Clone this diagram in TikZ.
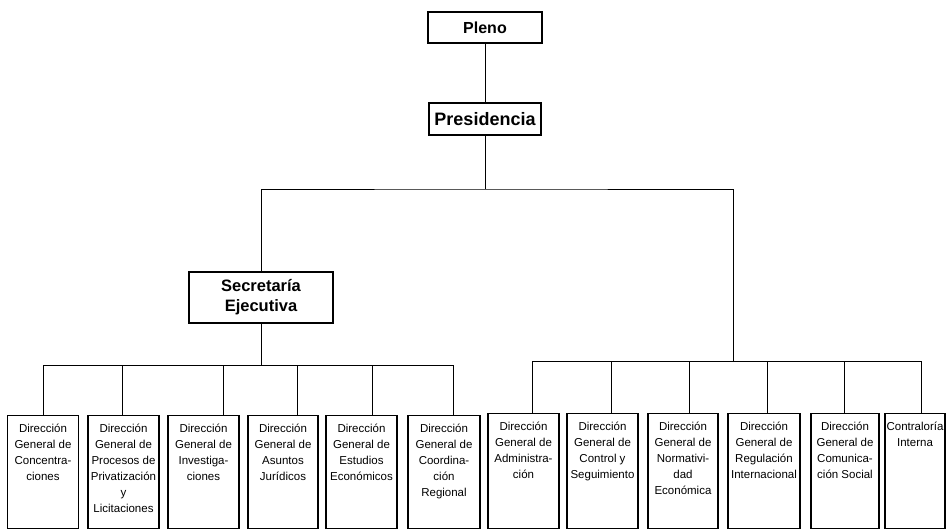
\documentclass[tikz,border=0pt]{standalone}
\usepackage{fontspec}
\setmainfont{Liberation Sans}
\newcommand{\dirtxt}[3]{\parbox[t][#1][t]{#2}{\centering\vspace*{8pt}#3}}
\begin{document}
\begin{tikzpicture}  % ------ Organigrama  ---------------
      [x=1pt,y=-1pt,
       titre/.style={draw,line width=1.2pt,inner sep=0pt,font=\bfseries},
       dir/.style={draw,line width=1.1pt,inner sep=0pt,anchor=north,
                   font=\fontsize{11.5}{16}\selectfont},
       trait/.style={line width=0.9pt}]
    \useasboundingbox (0,0) rectangle (950,531);
    % ------ direction
    \node [titre,minimum width=114pt,minimum height=31pt,font=\fontsize{16}{18}\selectfont\bfseries]
          (pleno) at (485,27.5) {Pleno};
    \node [titre,minimum width=112pt,minimum height=32pt,font=\fontsize{18}{20}\selectfont\bfseries]
          (pres) at (485,119) {Presidencia};
    \node [titre,minimum width=144pt,minimum height=51pt,align=center,
           font=\fontsize{16.5}{20}\selectfont\bfseries]
          (secr) at (261,297.5) {Secretaría\\Ejecutiva};
    \coordinate (b0) at (485,189);
    \coordinate (busG) at (261,365);
    \coordinate (busD) at (733,361);
    % ------ directions generales (Secretaría)
    \node [dir] (d1) at (43,415)    {\dirtxt{113pt}{71pt}{Dirección\\General de\\Concentra-\\ciones}};
    \node [dir] (d2) at (123.5,415) {\dirtxt{113pt}{71pt}{Dirección\\General de\\Procesos de\\Privatización\\y\\Licitaciones}};
    \node [dir] (d3) at (203.5,415) {\dirtxt{113pt}{71pt}{Dirección\\General de\\Investiga-\\ciones}};
    \node [dir] (d4) at (283,415)   {\dirtxt{113pt}{70pt}{Dirección\\General de\\Asuntos\\Jurídicos}};
    \node [dir] (d5) at (361.5,415) {\dirtxt{113pt}{71pt}{Dirección\\General de\\Estudios\\Económicos}};
    \node [dir] (d6) at (444,415)   {\dirtxt{113pt}{72pt}{Dirección\\General de\\Coordina-\\ción\\Regional}};
    % ------ directions generales (Presidencia)
    \node [dir] (d7) at (523.5,413)  {\dirtxt{115pt}{71pt}{Dirección\\General de\\Administra-\\ción}};
    \node [dir] (d8) at (602.5,413)  {\dirtxt{115pt}{71pt}{Dirección\\General de\\Control y\\Seguimiento}};
    \node [dir] (d9) at (683,413)    {\dirtxt{115pt}{70pt}{Dirección\\General de\\Normativi-\\dad\\Económica}};
    \node [dir] (d10) at (764,413)   {\dirtxt{115pt}{72pt}{Dirección\\General de\\Regulación\\Internacional}};
    \node [dir] (d11) at (845,413)   {\dirtxt{115pt}{68pt}{Dirección\\General de\\Comunica-\\ción Social}};
    \node [dir] (d12) at (915,413)   {\dirtxt{115pt}{60pt}{Contraloría\\Interna}};
    % ------ liens
    \draw [trait] (pleno) -- (pres);
    \draw [trait] (pres) -- (b0);
    \draw [trait] (secr) |- (b0) -| (busD);
    \draw [trait] (secr) -- (busG);
    \draw [trait] (d1.north) |- (busG) -| ([xshift=9pt]d6.north);
    \foreach \n/\s in {d2/-1.5,d3/19.5,d4/14,d5/10.5}
        \draw [trait] ([xshift=\s pt]\n.north) |- (busG);
    \draw [trait] ([xshift=9pt]d7.north) |- (busD) -| ([xshift=6pt]d12.north);
    \foreach \n/\s in {d8/8.5,d9/6,d10/3,d11/-1}
        \draw [trait] ([xshift=\s pt]\n.north) |- (busD);
\end{tikzpicture}
\end{document}
